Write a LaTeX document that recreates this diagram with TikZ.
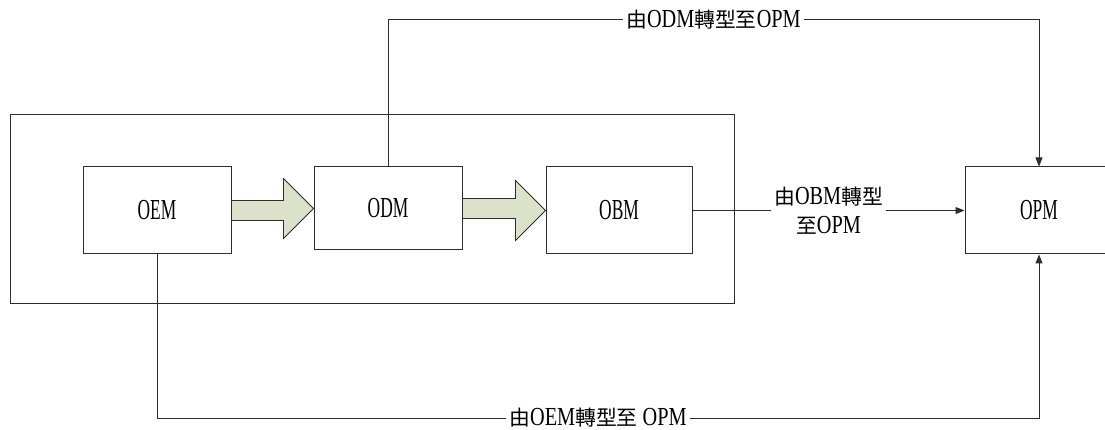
\documentclass[tikz,border=0pt]{standalone}
\usepackage{fontspec}
\setmainfont[FakeStretch=0.8]{Liberation Serif}
\newfontfamily\boxfont[FakeStretch=0.6]{Liberation Serif}
\newfontfamily\lblfont[FakeStretch=0.78]{Liberation Serif}
\newfontfamily\cjk[Scale=0.8]{Noto Sans CJK TC}
\usetikzlibrary{arrows.meta,calc}

\definecolor{arrowfill}{RGB}{220,225,202}
\definecolor{linegray}{RGB}{45,45,45}

\newcommand\fatarrow[2]{%
  \draw[fatarrow] let \p1=(#1.east), \p2=(#2.west) in
    (\x1,\y1+10pt) -- (\x2-30pt,\y1+10pt) -- (\x2-30pt,\y2+30pt) -- (\x2,\y2)
    -- (\x2-30pt,\y2-30pt) -- (\x2-30pt,\y1-10pt) -- (\x1,\y1-10pt) -- cycle;}

\begin{document}
\begin{tikzpicture}[x=1pt, y=-1pt, >={Triangle[length=9pt,width=7pt]},
    stagebox/.style={draw=linegray, line width=1pt, fill=white, minimum width=148pt, minimum height=87pt, inner sep=0pt, font=\boxfont\fontsize{29}{32}\selectfont},
    conn/.style={draw=linegray, line width=1pt},
    lbl/.style={fill=white, inner sep=3pt, align=center, font=\lblfont\fontsize{26}{29}\selectfont},
    fatarrow/.style={draw=linegray, line width=0.8pt, fill=arrowfill}]
    \clip (0,0) rectangle (1105,430);
    \node[draw=linegray, line width=1pt, minimum width=724pt, minimum height=188pt, inner sep=0pt] (frame) at (372,209) {};
    \node[stagebox] (oem) at (157,210.5) {OEM};
    \node[stagebox, minimum height=83pt] (odm) at (388,208.5) {ODM};
    \node[stagebox, minimum width=146pt] (obm) at (619,210.5) {OBM};
    \node[stagebox] (opm) at (1039,210.5) {OPM};
    \coordinate (topy) at (0,20);
    \coordinate (boty) at (0,418);
    % inside the frame
    \fatarrow{oem}{odm}
    \fatarrow{odm}{obm}
    % routes to OPM
    \draw[conn, ->] (obm.east) -- node[lbl] {{\cjk 由}OBM{\cjk 轉型}\\{\cjk 至}OPM} (opm.west);
    \draw[conn, ->] (odm.north) -- (odm.north |- topy) -- node[lbl] {{\cjk 由}ODM{\cjk 轉型至}OPM} (opm.north |- topy) -- (opm.north);
    \draw[conn, ->] (oem.south) -- (oem.south |- boty) -- node[lbl] {{\cjk 由}OEM{\cjk 轉型至} OPM} (opm.south |- boty) -- (opm.south);
\end{tikzpicture}
\end{document}
